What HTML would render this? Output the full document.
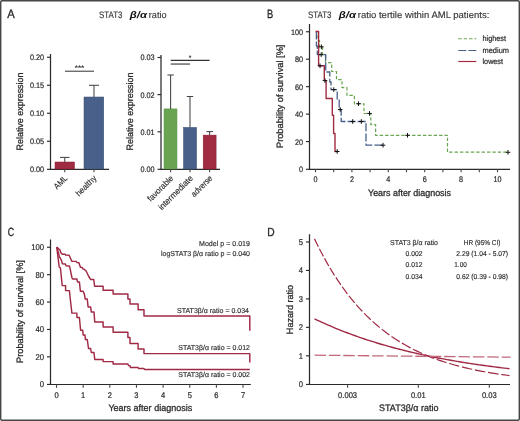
<!DOCTYPE html>
<html lang="en">
<head>
<meta charset="utf-8">
<title>STAT3 β/α ratio</title>
<style>
html,body{margin:0;padding:0;background:#fff;}
body{width:520px;height:421px;overflow:hidden;}
svg{display:block;}
svg text{font-family:"Liberation Sans","DejaVu Sans",sans-serif;text-rendering:geometricPrecision;stroke:#333;stroke-linejoin:round;}
</style>
</head>
<body>
<svg width="520" height="421" viewBox="0 0 520 421">
<rect x="0" y="0" width="520" height="421" fill="#fff"/>
<rect x="0.7" y="0.7" width="518.6" height="419.6" rx="1.6" ry="1.6" fill="none" stroke="#464646" stroke-width="1.45"/>
<text x="7.3" y="17.6" stroke-width="0.3" font-size="12.2" text-anchor="start" fill="#1a1a1a" textLength="7.5" lengthAdjust="spacingAndGlyphs" >A</text>
<text x="267.1" y="17.7" stroke-width="0.3" font-size="12" text-anchor="start" fill="#1a1a1a" textLength="6.2" lengthAdjust="spacingAndGlyphs" >B</text>
<text x="7.8" y="236.4" stroke-width="0.3" font-size="11.8" text-anchor="start" fill="#1a1a1a" textLength="6.4" lengthAdjust="spacingAndGlyphs" >C</text>
<text x="267.2" y="236.4" stroke-width="0.3" font-size="11.8" text-anchor="start" fill="#1a1a1a" textLength="7.4" lengthAdjust="spacingAndGlyphs" >D</text>
<text x="99" y="17.8" font-size="9.4" text-anchor="start" fill="#3a3a3a" textLength="23.4" lengthAdjust="spacingAndGlyphs" stroke-width="0.15">STAT3</text>
<text x="129.8" y="17.8" font-size="9.5" text-anchor="start" fill="#111" textLength="17.2" lengthAdjust="spacingAndGlyphs" font-weight="bold" font-style="italic" stroke-width="0">β/α</text>
<text x="148.8" y="17.8" font-size="9.3" text-anchor="start" fill="#3a3a3a" textLength="17.7" lengthAdjust="spacingAndGlyphs" stroke-width="0.15">ratio</text>
<text x="308" y="17.8" font-size="9.4" text-anchor="start" fill="#3a3a3a" textLength="23.4" lengthAdjust="spacingAndGlyphs" stroke-width="0.15">STAT3</text>
<text x="338.8" y="17.8" font-size="9.5" text-anchor="start" fill="#111" textLength="17.2" lengthAdjust="spacingAndGlyphs" font-weight="bold" font-style="italic" stroke-width="0">β/α</text>
<text x="357.8" y="17.8" font-size="9.3" text-anchor="start" fill="#3a3a3a" textLength="131.5" lengthAdjust="spacingAndGlyphs" stroke-width="0.15">ratio tertile within AML patients:</text>
<line x1="50.5" y1="54" x2="50.5" y2="169.8" stroke="#2a2a2a" stroke-width="1.25" />
<line x1="50.0" y1="169.3" x2="109" y2="169.3" stroke="#2a2a2a" stroke-width="1.15" />
<line x1="47" y1="57.25" x2="50.5" y2="57.25" stroke="#2a2a2a" stroke-width="1.15" />
<text x="44.1" y="60.2" stroke-width="0.22" font-size="8.0" text-anchor="end" fill="#262626" textLength="14.2" lengthAdjust="spacingAndGlyphs" >0.20</text>
<line x1="47" y1="85.25" x2="50.5" y2="85.25" stroke="#2a2a2a" stroke-width="1.15" />
<text x="44.1" y="88.2" stroke-width="0.22" font-size="8.0" text-anchor="end" fill="#262626" textLength="14.2" lengthAdjust="spacingAndGlyphs" >0.15</text>
<line x1="47" y1="113.25" x2="50.5" y2="113.25" stroke="#2a2a2a" stroke-width="1.15" />
<text x="44.1" y="116.2" stroke-width="0.22" font-size="8.0" text-anchor="end" fill="#262626" textLength="14.2" lengthAdjust="spacingAndGlyphs" >0.10</text>
<line x1="47" y1="141.25" x2="50.5" y2="141.25" stroke="#2a2a2a" stroke-width="1.15" />
<text x="44.1" y="144.2" stroke-width="0.22" font-size="8.0" text-anchor="end" fill="#262626" textLength="14.2" lengthAdjust="spacingAndGlyphs" >0.05</text>
<line x1="47" y1="169.3" x2="50.5" y2="169.3" stroke="#2a2a2a" stroke-width="1.15" />
<text x="44.1" y="171.95" stroke-width="0.22" font-size="8.0" text-anchor="end" fill="#262626" textLength="14.2" lengthAdjust="spacingAndGlyphs" >0.00</text>
<line x1="64.75" y1="169" x2="64.75" y2="172.3" stroke="#444" stroke-width="1.1" />
<line x1="94" y1="169" x2="94" y2="172.3" stroke="#444" stroke-width="1.1" />
<rect x="55" y="162" width="19.5" height="7" fill="#a02c42" stroke="#8a2035" stroke-width="0.5"/>
<line x1="64.75" y1="157.4" x2="64.75" y2="162" stroke="#444" stroke-width="1.05" />
<line x1="60" y1="157.4" x2="69.5" y2="157.4" stroke="#444" stroke-width="1.05" />
<rect x="84" y="97" width="19.75" height="72" fill="#48608a" stroke="#3c5072" stroke-width="0.5"/>
<line x1="94" y1="85.3" x2="94" y2="97" stroke="#444" stroke-width="1.05" />
<line x1="89" y1="85.3" x2="99" y2="85.3" stroke="#444" stroke-width="1.05" />
<line x1="65" y1="71.2" x2="94" y2="71.2" stroke="#3a3a3a" stroke-width="1.05" />
<text x="79.5" y="70.1" stroke-width="0.22" font-size="6.6" text-anchor="middle" fill="#333" textLength="9.4" lengthAdjust="spacingAndGlyphs" >***</text>
<text transform="translate(22.8 111.5) rotate(-90)" stroke-width="0.3" font-size="9.3" text-anchor="middle" fill="#262626" textLength="78" lengthAdjust="spacingAndGlyphs" >Relative expression</text>
<text transform="translate(68.1 178.7) rotate(-45)" font-size="8.5" text-anchor="end" fill="#262626" textLength="15.6" lengthAdjust="spacingAndGlyphs" stroke-width="0.15">AML</text>
<text transform="translate(97.1 178.7) rotate(-45)" font-size="8.5" text-anchor="end" fill="#262626" textLength="25.6" lengthAdjust="spacingAndGlyphs" stroke-width="0.15">healthy</text>
<line x1="161" y1="55" x2="161" y2="169.8" stroke="#2a2a2a" stroke-width="1.25" />
<line x1="160.5" y1="169.3" x2="220" y2="169.3" stroke="#2a2a2a" stroke-width="1.15" />
<line x1="157.5" y1="57.5" x2="161" y2="57.5" stroke="#2a2a2a" stroke-width="1.15" />
<text x="154.6" y="60.45" stroke-width="0.22" font-size="8.0" text-anchor="end" fill="#262626" textLength="14.2" lengthAdjust="spacingAndGlyphs" >0.03</text>
<line x1="157.5" y1="94.6" x2="161" y2="94.6" stroke="#2a2a2a" stroke-width="1.15" />
<text x="154.6" y="97.55" stroke-width="0.22" font-size="8.0" text-anchor="end" fill="#262626" textLength="14.2" lengthAdjust="spacingAndGlyphs" >0.02</text>
<line x1="157.5" y1="131.8" x2="161" y2="131.8" stroke="#2a2a2a" stroke-width="1.15" />
<text x="154.6" y="134.75" stroke-width="0.22" font-size="8.0" text-anchor="end" fill="#262626" textLength="14.2" lengthAdjust="spacingAndGlyphs" >0.01</text>
<line x1="157.5" y1="169.3" x2="161" y2="169.3" stroke="#2a2a2a" stroke-width="1.15" />
<text x="154.6" y="171.95" stroke-width="0.22" font-size="8.0" text-anchor="end" fill="#262626" textLength="14.2" lengthAdjust="spacingAndGlyphs" >0.00</text>
<line x1="170.6" y1="169" x2="170.6" y2="172.3" stroke="#444" stroke-width="1.1" />
<line x1="190" y1="169" x2="190" y2="172.3" stroke="#444" stroke-width="1.1" />
<line x1="209.6" y1="169" x2="209.6" y2="172.3" stroke="#444" stroke-width="1.1" />
<rect x="164" y="108.9" width="13" height="60.1" fill="#69a551" stroke="#5e9448" stroke-width="0.5"/>
<line x1="170.6" y1="75" x2="170.6" y2="108.9" stroke="#444" stroke-width="1.05" />
<line x1="167.4" y1="75" x2="173.8" y2="75" stroke="#444" stroke-width="1.05" />
<rect x="183.5" y="127.4" width="13.1" height="41.6" fill="#48608a" stroke="#3c5072" stroke-width="0.5"/>
<line x1="190" y1="96.5" x2="190" y2="127.4" stroke="#444" stroke-width="1.05" />
<line x1="186.8" y1="96.5" x2="193.2" y2="96.5" stroke="#444" stroke-width="1.05" />
<rect x="203.2" y="135.1" width="12.9" height="33.9" fill="#a02c42" stroke="#8a2035" stroke-width="0.5"/>
<line x1="209.6" y1="131.6" x2="209.6" y2="135.1" stroke="#444" stroke-width="1.05" />
<line x1="206.4" y1="131.6" x2="213" y2="131.6" stroke="#444" stroke-width="1.05" />
<line x1="170.7" y1="60.4" x2="209.6" y2="60.4" stroke="#333" stroke-width="1.1" />
<line x1="170.7" y1="64.05" x2="190" y2="64.05" stroke="#444" stroke-width="1.2" />
<text x="190" y="59.5" stroke-width="0.22" font-size="6.6" text-anchor="middle" fill="#333" >*</text>
<text transform="translate(133.3 111.5) rotate(-90)" stroke-width="0.3" font-size="9.3" text-anchor="middle" fill="#262626" textLength="78" lengthAdjust="spacingAndGlyphs" >Relative expression</text>
<text transform="translate(174 178.8) rotate(-45)" font-size="8.5" text-anchor="end" fill="#262626" textLength="32.8" lengthAdjust="spacingAndGlyphs" stroke-width="0.15">favorable</text>
<text transform="translate(193.5 178.8) rotate(-45)" font-size="8.5" text-anchor="end" fill="#262626" textLength="45" lengthAdjust="spacingAndGlyphs" stroke-width="0.15">intermediate</text>
<text transform="translate(213 178.8) rotate(-45)" font-size="8.5" text-anchor="end" fill="#262626" textLength="26.5" lengthAdjust="spacingAndGlyphs" stroke-width="0.15">adverse</text>
<line x1="309.5" y1="24" x2="309.5" y2="169.8" stroke="#2a2a2a" stroke-width="1.25" />
<line x1="309.0" y1="169.3" x2="510" y2="169.3" stroke="#2a2a2a" stroke-width="1.15" />
<line x1="306" y1="169.3" x2="309.5" y2="169.3" stroke="#2a2a2a" stroke-width="1.15" />
<text x="303.1" y="171.95" stroke-width="0.22" font-size="8.0" text-anchor="end" fill="#262626" textLength="4.03" lengthAdjust="spacingAndGlyphs" >0</text>
<line x1="306" y1="141.55" x2="309.5" y2="141.55" stroke="#2a2a2a" stroke-width="1.15" />
<text x="303.1" y="144.5" stroke-width="0.22" font-size="8.0" text-anchor="end" fill="#262626" textLength="8.06" lengthAdjust="spacingAndGlyphs" >20</text>
<line x1="306" y1="114.1" x2="309.5" y2="114.1" stroke="#2a2a2a" stroke-width="1.15" />
<text x="303.1" y="117.05" stroke-width="0.22" font-size="8.0" text-anchor="end" fill="#262626" textLength="8.06" lengthAdjust="spacingAndGlyphs" >40</text>
<line x1="306" y1="86.65" x2="309.5" y2="86.65" stroke="#2a2a2a" stroke-width="1.15" />
<text x="303.1" y="89.60000000000001" stroke-width="0.22" font-size="8.0" text-anchor="end" fill="#262626" textLength="8.06" lengthAdjust="spacingAndGlyphs" >60</text>
<line x1="306" y1="59.2" x2="309.5" y2="59.2" stroke="#2a2a2a" stroke-width="1.15" />
<text x="303.1" y="62.150000000000006" stroke-width="0.22" font-size="8.0" text-anchor="end" fill="#262626" textLength="8.06" lengthAdjust="spacingAndGlyphs" >80</text>
<line x1="306" y1="31.75" x2="309.5" y2="31.75" stroke="#2a2a2a" stroke-width="1.15" />
<text x="303.1" y="34.7" stroke-width="0.22" font-size="8.0" text-anchor="end" fill="#262626" textLength="12.09" lengthAdjust="spacingAndGlyphs" >100</text>
<line x1="315.5" y1="169" x2="315.5" y2="172.3" stroke="#444" stroke-width="1.1" />
<line x1="333.7" y1="169" x2="333.7" y2="172.3" stroke="#444" stroke-width="1.1" />
<line x1="351.9" y1="169" x2="351.9" y2="172.3" stroke="#444" stroke-width="1.1" />
<line x1="370.1" y1="169" x2="370.1" y2="172.3" stroke="#444" stroke-width="1.1" />
<line x1="388.3" y1="169" x2="388.3" y2="172.3" stroke="#444" stroke-width="1.1" />
<line x1="406.5" y1="169" x2="406.5" y2="172.3" stroke="#444" stroke-width="1.1" />
<line x1="424.7" y1="169" x2="424.7" y2="172.3" stroke="#444" stroke-width="1.1" />
<line x1="442.9" y1="169" x2="442.9" y2="172.3" stroke="#444" stroke-width="1.1" />
<line x1="461.1" y1="169" x2="461.1" y2="172.3" stroke="#444" stroke-width="1.1" />
<line x1="479.29999999999995" y1="169" x2="479.29999999999995" y2="172.3" stroke="#444" stroke-width="1.1" />
<line x1="497.5" y1="169" x2="497.5" y2="172.3" stroke="#444" stroke-width="1.1" />
<text x="315.5" y="181.9" stroke-width="0.22" font-size="8.2" text-anchor="middle" fill="#262626" textLength="4.03" lengthAdjust="spacingAndGlyphs" >0</text>
<text x="351.9" y="181.9" stroke-width="0.22" font-size="8.2" text-anchor="middle" fill="#262626" textLength="4.03" lengthAdjust="spacingAndGlyphs" >2</text>
<text x="388.3" y="181.9" stroke-width="0.22" font-size="8.2" text-anchor="middle" fill="#262626" textLength="4.03" lengthAdjust="spacingAndGlyphs" >4</text>
<text x="424.7" y="181.9" stroke-width="0.22" font-size="8.2" text-anchor="middle" fill="#262626" textLength="4.03" lengthAdjust="spacingAndGlyphs" >6</text>
<text x="461.1" y="181.9" stroke-width="0.22" font-size="8.2" text-anchor="middle" fill="#262626" textLength="4.03" lengthAdjust="spacingAndGlyphs" >8</text>
<text x="497.5" y="181.9" stroke-width="0.22" font-size="8.2" text-anchor="middle" fill="#262626" textLength="8.06" lengthAdjust="spacingAndGlyphs" >10</text>
<text x="409.5" y="195.6" stroke-width="0.3" font-size="9.3" text-anchor="middle" fill="#262626" textLength="83" lengthAdjust="spacingAndGlyphs" >Years after diagnosis</text>
<text transform="translate(282.6 96.3) rotate(-90)" stroke-width="0.3" font-size="9.3" text-anchor="middle" fill="#262626" textLength="103.5" lengthAdjust="spacingAndGlyphs" >Probability of survival [%]</text>
<polyline points="316,31.6 316.6,31.6 316.6,36 318,36 318,40.5 319.5,40.5 319.5,47 322.5,47 322.5,55 325.5,55 325.5,62.7 331.7,62.7 331.7,71.5 336.5,71.5 336.5,79.6 342,79.6 342,87.7 347,87.7 347,95.4 354.4,95.4 354.4,103.8 364,103.8 364,113.5 370.8,113.5 370.8,124.6 375.6,124.6 375.6,135.3 447.5,135.3 447.5,152.2 508,152.2" fill="none" stroke="#69a551" stroke-width="1.2" stroke-dasharray="3.4 2" stroke-linejoin="round" />
<polyline points="316.4,31.5 316.4,46 317.3,46 317.3,54.6 325.7,54.6 325.7,72 329.8,72 329.8,82 331,82 331,89.6 337.2,89.6 337.2,99.2 339.2,99.2 339.2,109.5 341.2,109.5 341.2,121.5 366,121.5 366,145.2 384.2,145.2" fill="none" stroke="#48608a" stroke-width="1.3" stroke-dasharray="8 2.1" stroke-linejoin="round" />
<polyline points="315.5,31.5 318.6,31.5 318.6,65.8 324.3,65.8 324.3,80.6 326.1,80.6 326.1,98.5 332.3,98.5 332.3,115.3 333.6,115.3 333.6,133.5 335,133.5 335,151.5 337.5,151.5" fill="none" stroke="#a02c42" stroke-width="1.4" stroke-linejoin="round" />
<line x1="319.09999999999997" y1="46.8" x2="323.7" y2="46.8" stroke="#111" stroke-width="1.0" />
<line x1="321.4" y1="44.5" x2="321.4" y2="49.099999999999994" stroke="#111" stroke-width="1.0" />
<line x1="356.2" y1="103.7" x2="360.8" y2="103.7" stroke="#111" stroke-width="1.0" />
<line x1="358.5" y1="101.4" x2="358.5" y2="106.0" stroke="#111" stroke-width="1.0" />
<line x1="367.2" y1="113.4" x2="371.8" y2="113.4" stroke="#111" stroke-width="1.0" />
<line x1="369.5" y1="111.10000000000001" x2="369.5" y2="115.7" stroke="#111" stroke-width="1.0" />
<line x1="405.2" y1="135.3" x2="409.8" y2="135.3" stroke="#111" stroke-width="1.0" />
<line x1="407.5" y1="133.0" x2="407.5" y2="137.60000000000002" stroke="#111" stroke-width="1.0" />
<line x1="505.7" y1="152.3" x2="510.3" y2="152.3" stroke="#111" stroke-width="1.0" />
<line x1="508" y1="150.0" x2="508" y2="154.60000000000002" stroke="#111" stroke-width="1.0" />
<line x1="318.9" y1="54.6" x2="323.5" y2="54.6" stroke="#111" stroke-width="1.0" />
<line x1="321.2" y1="52.300000000000004" x2="321.2" y2="56.9" stroke="#111" stroke-width="1.0" />
<line x1="331.5" y1="89.6" x2="336.1" y2="89.6" stroke="#111" stroke-width="1.0" />
<line x1="333.8" y1="87.3" x2="333.8" y2="91.89999999999999" stroke="#111" stroke-width="1.0" />
<line x1="337.9" y1="109.5" x2="342.5" y2="109.5" stroke="#111" stroke-width="1.0" />
<line x1="340.2" y1="107.2" x2="340.2" y2="111.8" stroke="#111" stroke-width="1.0" />
<line x1="350.4" y1="121.5" x2="355.0" y2="121.5" stroke="#111" stroke-width="1.0" />
<line x1="352.7" y1="119.2" x2="352.7" y2="123.8" stroke="#111" stroke-width="1.0" />
<line x1="359.0" y1="121.5" x2="363.6" y2="121.5" stroke="#111" stroke-width="1.0" />
<line x1="361.3" y1="119.2" x2="361.3" y2="123.8" stroke="#111" stroke-width="1.0" />
<line x1="380.7" y1="145.2" x2="385.3" y2="145.2" stroke="#111" stroke-width="1.0" />
<line x1="383" y1="142.89999999999998" x2="383" y2="147.5" stroke="#111" stroke-width="1.0" />
<line x1="317.7" y1="65.8" x2="322.3" y2="65.8" stroke="#111" stroke-width="1.0" />
<line x1="320" y1="63.5" x2="320" y2="68.1" stroke="#111" stroke-width="1.0" />
<line x1="322.7" y1="80.6" x2="327.3" y2="80.6" stroke="#111" stroke-width="1.0" />
<line x1="325" y1="78.3" x2="325" y2="82.89999999999999" stroke="#111" stroke-width="1.0" />
<line x1="334.9" y1="151.5" x2="339.5" y2="151.5" stroke="#111" stroke-width="1.0" />
<line x1="337.2" y1="149.2" x2="337.2" y2="153.8" stroke="#111" stroke-width="1.0" />
<line x1="458.3" y1="38.75" x2="476.3" y2="38.75" stroke="#69a551" stroke-width="1.2" stroke-dasharray="3.4 2"/>
<text x="482.5" y="41.25" stroke-width="0.22" font-size="7.8" text-anchor="start" fill="#262626" textLength="23.5" lengthAdjust="spacingAndGlyphs" >highest</text>
<line x1="458.3" y1="50.5" x2="476.3" y2="50.5" stroke="#48608a" stroke-width="1.2" stroke-dasharray="8 2.1"/>
<text x="482.5" y="53.0" stroke-width="0.22" font-size="7.8" text-anchor="start" fill="#262626" textLength="26.5" lengthAdjust="spacingAndGlyphs" >medium</text>
<line x1="458.3" y1="61.5" x2="476.3" y2="61.5" stroke="#a02c42" stroke-width="1.2" />
<text x="482.5" y="64.0" stroke-width="0.22" font-size="7.8" text-anchor="start" fill="#262626" textLength="20.5" lengthAdjust="spacingAndGlyphs" >lowest</text>
<line x1="50.5" y1="239.5" x2="50.5" y2="384.95" stroke="#2a2a2a" stroke-width="1.25" />
<line x1="50.0" y1="384.45" x2="250.8" y2="384.45" stroke="#2a2a2a" stroke-width="1.15" />
<line x1="47" y1="384.45" x2="50.5" y2="384.45" stroke="#2a2a2a" stroke-width="1.15" />
<text x="44.1" y="387.15" stroke-width="0.22" font-size="8.4" text-anchor="end" fill="#262626" textLength="4.3" lengthAdjust="spacingAndGlyphs" >0</text>
<line x1="47" y1="356.85" x2="50.5" y2="356.85" stroke="#2a2a2a" stroke-width="1.15" />
<text x="44.1" y="359.75" stroke-width="0.22" font-size="8.4" text-anchor="end" fill="#262626" textLength="8.6" lengthAdjust="spacingAndGlyphs" >20</text>
<line x1="47" y1="329.45" x2="50.5" y2="329.45" stroke="#2a2a2a" stroke-width="1.15" />
<text x="44.1" y="332.34999999999997" stroke-width="0.22" font-size="8.4" text-anchor="end" fill="#262626" textLength="8.6" lengthAdjust="spacingAndGlyphs" >40</text>
<line x1="47" y1="302.05" x2="50.5" y2="302.05" stroke="#2a2a2a" stroke-width="1.15" />
<text x="44.1" y="304.95" stroke-width="0.22" font-size="8.4" text-anchor="end" fill="#262626" textLength="8.6" lengthAdjust="spacingAndGlyphs" >60</text>
<line x1="47" y1="274.65" x2="50.5" y2="274.65" stroke="#2a2a2a" stroke-width="1.15" />
<text x="44.1" y="277.54999999999995" stroke-width="0.22" font-size="8.4" text-anchor="end" fill="#262626" textLength="8.6" lengthAdjust="spacingAndGlyphs" >80</text>
<line x1="47" y1="247.25" x2="50.5" y2="247.25" stroke="#2a2a2a" stroke-width="1.15" />
<text x="44.1" y="250.15" stroke-width="0.22" font-size="8.4" text-anchor="end" fill="#262626" textLength="12.899999999999999" lengthAdjust="spacingAndGlyphs" >100</text>
<line x1="56.5" y1="384.25" x2="56.5" y2="387.8" stroke="#444" stroke-width="1.1" />
<text x="56.5" y="397.8" stroke-width="0.22" font-size="8.2" text-anchor="middle" fill="#262626" textLength="4.2" lengthAdjust="spacingAndGlyphs" >0</text>
<line x1="83.15" y1="384.25" x2="83.15" y2="387.8" stroke="#444" stroke-width="1.1" />
<text x="83.15" y="397.8" stroke-width="0.22" font-size="8.2" text-anchor="middle" fill="#262626" textLength="4.2" lengthAdjust="spacingAndGlyphs" >1</text>
<line x1="109.8" y1="384.25" x2="109.8" y2="387.8" stroke="#444" stroke-width="1.1" />
<text x="109.8" y="397.8" stroke-width="0.22" font-size="8.2" text-anchor="middle" fill="#262626" textLength="4.2" lengthAdjust="spacingAndGlyphs" >2</text>
<line x1="136.45" y1="384.25" x2="136.45" y2="387.8" stroke="#444" stroke-width="1.1" />
<text x="136.45" y="397.8" stroke-width="0.22" font-size="8.2" text-anchor="middle" fill="#262626" textLength="4.2" lengthAdjust="spacingAndGlyphs" >3</text>
<line x1="163.1" y1="384.25" x2="163.1" y2="387.8" stroke="#444" stroke-width="1.1" />
<text x="163.1" y="397.8" stroke-width="0.22" font-size="8.2" text-anchor="middle" fill="#262626" textLength="4.2" lengthAdjust="spacingAndGlyphs" >4</text>
<line x1="189.75" y1="384.25" x2="189.75" y2="387.8" stroke="#444" stroke-width="1.1" />
<text x="189.75" y="397.8" stroke-width="0.22" font-size="8.2" text-anchor="middle" fill="#262626" textLength="4.2" lengthAdjust="spacingAndGlyphs" >5</text>
<line x1="216.39999999999998" y1="384.25" x2="216.39999999999998" y2="387.8" stroke="#444" stroke-width="1.1" />
<text x="216.39999999999998" y="397.8" stroke-width="0.22" font-size="8.2" text-anchor="middle" fill="#262626" textLength="4.2" lengthAdjust="spacingAndGlyphs" >6</text>
<line x1="243.04999999999998" y1="384.25" x2="243.04999999999998" y2="387.8" stroke="#444" stroke-width="1.1" />
<text x="243.04999999999998" y="397.8" stroke-width="0.22" font-size="8.2" text-anchor="middle" fill="#262626" textLength="4.2" lengthAdjust="spacingAndGlyphs" >7</text>
<text x="150.3" y="410.6" stroke-width="0.3" font-size="9.3" text-anchor="middle" fill="#262626" textLength="83.8" lengthAdjust="spacingAndGlyphs" >Years after diagnosis</text>
<text transform="translate(23.4 311.5) rotate(-90)" stroke-width="0.3" font-size="9.3" text-anchor="middle" fill="#262626" textLength="102.8" lengthAdjust="spacingAndGlyphs" >Probability of survival [%]</text>
<polyline points="56.8,247.1 60.2,250.2 60.5,252 62,254.2 65.1,254.2 65.7,255.1 69.1,255.2 71.8,261.2 76.2,261.4 77.1,262.6 78.9,262.8 80.5,267.4 82.3,267.5 82.9,268.8 84.5,269.5 86.25,271.25 88.75,276.5 90.6,279.4 93.75,279.4 94.6,286.25 103.1,286.25 103.1,290.25 113.1,290.25 113.1,294 127.9,294 127.9,299 130,299 130,304 138.1,304 138.1,309.75 144,309.75 144,316 249.8,316 249.8,330.8" fill="none" stroke="#a02a44" stroke-width="1.45" stroke-linejoin="round" />
<polyline points="56.8,247.1 58.6,253.2 59.2,256.3 60.8,259.1 61.7,260.9 62.3,263.7 65.4,264 66,265.8 69.4,266 70.1,268.6 71.9,277.5 72.5,279 76.9,279 77.5,281.9 79.4,281.9 80.4,291.25 83.1,291.25 84.4,294.4 85.25,299 87.25,299 88.1,306.9 90.6,306.9 91.25,311.9 94,311.9 94.75,321.9 103.1,321.9 103.1,326.9 113.1,326.9 113.1,332.25 127.9,332.25 127.9,337.5 130,337.5 130,343.5 138.1,343.5 138.1,349 144,349 144,353.6 249.8,353.6 249.8,362.5" fill="none" stroke="#a02a44" stroke-width="1.45" stroke-linejoin="round" />
<polyline points="56.8,247.1 57.7,255 58.6,261.8 59.2,267 60.2,267.7 60.5,268.6 61.25,276.25 62.25,285.6 65.6,285.6 65.6,290.6 69.4,290.6 70.25,298.75 71.9,313.1 76.9,313.1 76.9,317.5 79.4,317.5 80.6,330.25 82.75,330.25 83.1,335 85,335 85.4,339.4 87.25,339.4 88.5,348.5 90.6,348.5 91.25,352.5 94,352.5 94.75,359.4 103.1,359.4 103.1,361.6 113.1,361.6 113.1,364 127.9,364 128.5,365.6 130,365.6 130.5,367.5 138.1,367.5 138.5,368.5 144,368.5 144.5,369.4 249.8,369.4" fill="none" stroke="#a02a44" stroke-width="1.45" stroke-linejoin="round" />
<text x="250" y="245.5" font-size="7.1" text-anchor="end" fill="#262626" textLength="51" lengthAdjust="spacingAndGlyphs"  stroke-width="0.15">Model p = 0.019</text>
<text x="250" y="256.1" font-size="7.1" text-anchor="end" fill="#262626" textLength="89" lengthAdjust="spacingAndGlyphs"  stroke-width="0.15">logSTAT3 β/α ratio p = 0.040</text>
<text x="249" y="313" font-size="7.1" text-anchor="end" fill="#262626" textLength="72" lengthAdjust="spacingAndGlyphs"  stroke-width="0.15">STAT3β/α ratio = 0.034</text>
<text x="250" y="349.6" font-size="7.1" text-anchor="end" fill="#262626" textLength="71.7" lengthAdjust="spacingAndGlyphs"  stroke-width="0.15">STAT3β/α ratio = 0.012</text>
<text x="250" y="377.4" font-size="7.1" text-anchor="end" fill="#262626" textLength="71.7" lengthAdjust="spacingAndGlyphs"  stroke-width="0.15">STAT3β/α ratio = 0.002</text>
<line x1="309.5" y1="234.25" x2="309.5" y2="384.95" stroke="#2a2a2a" stroke-width="1.25" />
<line x1="309.0" y1="384.45" x2="510" y2="384.45" stroke="#2a2a2a" stroke-width="1.15" />
<line x1="306" y1="384.45" x2="309.5" y2="384.45" stroke="#2a2a2a" stroke-width="1.15" />
<text x="303.1" y="387.15" stroke-width="0.22" font-size="8.3" text-anchor="end" fill="#262626" textLength="4.25" lengthAdjust="spacingAndGlyphs" >0</text>
<line x1="306" y1="355.8" x2="309.5" y2="355.8" stroke="#2a2a2a" stroke-width="1.15" />
<text x="303.1" y="358.7" stroke-width="0.22" font-size="8.3" text-anchor="end" fill="#262626" textLength="4.25" lengthAdjust="spacingAndGlyphs" >1</text>
<line x1="306" y1="327.35" x2="309.5" y2="327.35" stroke="#2a2a2a" stroke-width="1.15" />
<text x="303.1" y="330.25" stroke-width="0.22" font-size="8.3" text-anchor="end" fill="#262626" textLength="4.25" lengthAdjust="spacingAndGlyphs" >2</text>
<line x1="306" y1="298.9" x2="309.5" y2="298.9" stroke="#2a2a2a" stroke-width="1.15" />
<text x="303.1" y="301.79999999999995" stroke-width="0.22" font-size="8.3" text-anchor="end" fill="#262626" textLength="4.25" lengthAdjust="spacingAndGlyphs" >3</text>
<line x1="306" y1="270.45" x2="309.5" y2="270.45" stroke="#2a2a2a" stroke-width="1.15" />
<text x="303.1" y="273.34999999999997" stroke-width="0.22" font-size="8.3" text-anchor="end" fill="#262626" textLength="4.25" lengthAdjust="spacingAndGlyphs" >4</text>
<line x1="306" y1="242.0" x2="309.5" y2="242.0" stroke="#2a2a2a" stroke-width="1.15" />
<text x="303.1" y="244.9" stroke-width="0.22" font-size="8.3" text-anchor="end" fill="#262626" textLength="4.25" lengthAdjust="spacingAndGlyphs" >5</text>
<line x1="347.6" y1="384.25" x2="347.6" y2="387.8" stroke="#444" stroke-width="1.1" />
<text x="347.6" y="397.9" stroke-width="0.22" font-size="8.3" text-anchor="middle" fill="#262626" textLength="19" lengthAdjust="spacingAndGlyphs" >0.003</text>
<line x1="418.3" y1="384.25" x2="418.3" y2="387.8" stroke="#444" stroke-width="1.1" />
<text x="418.3" y="397.9" stroke-width="0.22" font-size="8.3" text-anchor="middle" fill="#262626" textLength="14.8" lengthAdjust="spacingAndGlyphs" >0.01</text>
<line x1="489.3" y1="384.25" x2="489.3" y2="387.8" stroke="#444" stroke-width="1.1" />
<text x="489.3" y="397.9" stroke-width="0.22" font-size="8.3" text-anchor="middle" fill="#262626" textLength="14.8" lengthAdjust="spacingAndGlyphs" >0.03</text>
<text x="408.8" y="410.6" stroke-width="0.3" font-size="9.3" text-anchor="middle" fill="#262626" textLength="59.5" lengthAdjust="spacingAndGlyphs" >STAT3β/α ratio</text>
<text transform="translate(293.3 309.5) rotate(-90)" stroke-width="0.3" font-size="9.3" text-anchor="middle" fill="#262626" textLength="49.3" lengthAdjust="spacingAndGlyphs" >Hazard ratio</text>
<path d="M314.5 238.87 L317.0 244.02 L318.31 246.63 M319.34 248.68 L319.5 248.99 L322.0 253.79 L323.39 256.36 M324.49 258.39 L324.5 258.41 L327.0 262.87 L328.81 265.98 M329.99 267.98 L332.0 271.32 L334.5 275.33 L334.6 275.48 M335.87 277.44 L337.0 279.19 L339.5 282.91 L340.82 284.8 M342.17 286.74 L344.5 289.97 L347.0 293.31 L347.49 293.94 M348.95 295.82 L349.5 296.53 L352.0 299.64 L354.5 302.64 L354.67 302.84 M356.25 304.67 L357.0 305.53 L359.5 308.32 L362.0 311.02 L362.42 311.45 M364.12 313.21 L364.5 313.61 L367.0 316.12 L369.5 318.53 L370.77 319.71 M372.6 321.4 L374.5 323.11 L377.0 325.27 L379.5 327.36 L379.76 327.57 M381.72 329.16 L382.0 329.38 L384.5 331.33 L387.0 333.2 L389.4 334.94 M391.51 336.41 L392.0 336.76 L394.5 338.44 L397.0 340.06 L399.5 341.63 L399.7 341.75 M401.94 343.1 L402.0 343.14 L404.5 344.6 L407.0 346.0 L409.5 347.36 L410.63 347.95 M413.0 349.17 L414.5 349.93 L417.0 351.14 L419.5 352.32 L422.0 353.45 L422.12 353.5 M424.6 354.58 L427.0 355.59 L429.5 356.61 L432.0 357.59 L434.11 358.39 M436.68 359.33 L437.0 359.45 L439.5 360.33 L442.0 361.17 L444.5 361.99 L446.5 362.62 M449.14 363.43 L449.5 363.54 L452.0 364.28 L454.5 364.98 L457.0 365.67 L459.21 366.25 M461.91 366.94 L462.0 366.96 L464.5 367.57 L467.0 368.16 L469.5 368.73 L472.0 369.28 L472.16 369.32 M474.9 369.9 L477.0 370.33 L479.5 370.82 L482.0 371.3 L484.5 371.75 L485.29 371.9 M488.06 372.38 L489.5 372.63 L492.0 373.04 L494.5 373.43 L497.0 373.82 L498.55 374.05 M501.34 374.45 L502.0 374.54 L504.5 374.89 L507.0 375.22 L509.5 375.54" fill="none" stroke="#a02a44" stroke-width="1.2"/>
<polyline points="314.5,318.81 317.0,320.01 319.5,321.18 322.0,322.33 324.5,323.46 327.0,324.57 329.5,325.66 332.0,326.73 334.5,327.78 337.0,328.81 339.5,329.83 342.0,330.82 344.5,331.8 347.0,332.75 349.5,333.69 352.0,334.62 354.5,335.52 357.0,336.41 359.5,337.29 362.0,338.14 364.5,338.99 367.0,339.81 369.5,340.62 372.0,341.42 374.5,342.2 377.0,342.97 379.5,343.72 382.0,344.46 384.5,345.19 387.0,345.9 389.5,346.6 392.0,347.29 394.5,347.97 397.0,348.63 399.5,349.28 402.0,349.92 404.5,350.54 407.0,351.16 409.5,351.76 412.0,352.36 414.5,352.94 417.0,353.51 419.5,354.07 422.0,354.62 424.5,355.16 427.0,355.69 429.5,356.22 432.0,356.73 434.5,357.23 437.0,357.72 439.5,358.21 442.0,358.68 444.5,359.15 447.0,359.61 449.5,360.06 452.0,360.5 454.5,360.93 457.0,361.36 459.5,361.78 462.0,362.19 464.5,362.59 467.0,362.99 469.5,363.37 472.0,363.76 474.5,364.13 477.0,364.5 479.5,364.86 482.0,365.21 484.5,365.56 487.0,365.9 489.5,366.24 492.0,366.56 494.5,366.89 497.0,367.2 499.5,367.52 502.0,367.82 504.5,368.12 507.0,368.42 509.5,368.71" fill="none" stroke="#a02a44" stroke-width="1.4" stroke-linejoin="round" />
<polyline points="314.5,355.2 510.6,357.2" fill="none" stroke="#c0687a" stroke-width="1.3" stroke-dasharray="11.5 2.9" stroke-linejoin="round" />
<text x="390" y="244.5" font-size="7.1" text-anchor="start" fill="#262626" textLength="48" lengthAdjust="spacingAndGlyphs"  stroke-width="0.15">STAT3 β/α ratio</text>
<text x="463.8" y="244.5" font-size="7.1" text-anchor="start" fill="#262626" textLength="36.7" lengthAdjust="spacingAndGlyphs"  stroke-width="0.15">HR (95% CI)</text>
<text x="405.5" y="256" font-size="7.1" text-anchor="start" fill="#262626" textLength="17" lengthAdjust="spacingAndGlyphs"  stroke-width="0.15">0.002</text>
<text x="456.3" y="256" font-size="7.1" text-anchor="start" fill="#262626" textLength="51.7" lengthAdjust="spacingAndGlyphs"  stroke-width="0.15">2.29 (1.04 - 5.07)</text>
<text x="405.5" y="267.3" font-size="7.1" text-anchor="start" fill="#262626" textLength="17" lengthAdjust="spacingAndGlyphs"  stroke-width="0.15">0.012</text>
<text x="454.3" y="267.3" font-size="7.1" text-anchor="start" fill="#262626" textLength="12.5" lengthAdjust="spacingAndGlyphs"  stroke-width="0.15">1.00</text>
<text x="405.5" y="278.5" font-size="7.1" text-anchor="start" fill="#262626" textLength="17" lengthAdjust="spacingAndGlyphs"  stroke-width="0.15">0.034</text>
<text x="456.3" y="278.5" font-size="7.1" text-anchor="start" fill="#262626" textLength="51.7" lengthAdjust="spacingAndGlyphs"  stroke-width="0.15">0.62 (0.39 - 0.98)</text>
</svg>
</body>
</html>
